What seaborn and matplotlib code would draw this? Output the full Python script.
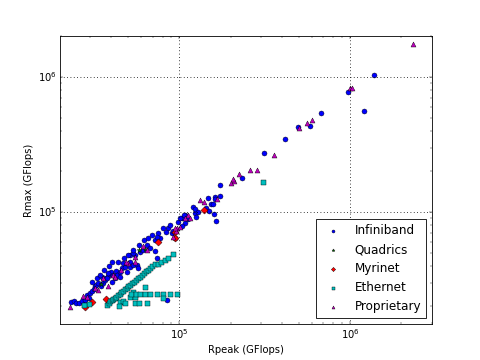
import matplotlib
matplotlib.use("Agg")
import matplotlib.pyplot as plt
import pandas as pd
import seaborn as sns

# ── Data (GFlops): Rpeak / Rmax per interconnect family ──────────────────────
infiniband_rpeak = [
    23300, 24300, 25000, 26000, 26900, 28200, 27800, 29000, 29800, 30200,
    30800, 31600, 32300, 32800, 33600, 35000, 35900, 36900, 37400, 38400,
    39500, 40000, 41000, 42200, 42800, 43900, 35400, 37900, 40500, 43400,
    45200, 45200, 46400, 48300, 49400, 51700, 51700, 53800, 55300, 56600,
    57300, 59200, 61900, 64700, 67700, 72400, 72400, 74100, 75700, 77400,
    74100, 86600, 91300, 92500, 94800, 98600, 104000, 108000, 121000, 124000,
    124000, 129000, 126000, 144000, 150000, 160000, 164000, 154000, 158000, 148000,
    162000, 162000, 174000, 174000, 107000, 101000, 108000, 113000, 104000, 85500,
    51700, 53800, 47100, 38600, 234000, 314000, 417000, 496000, 581000, 677000,
    1206000, 1376000, 973000,
    31000, 33100, 34500, 36400, 39000, 40500, 43900, 47700, 50200, 53800,
    57900, 62600, 65900, 69600, 81000, 84000, 88600,
]
infiniband_rmax = [
    21500, 21800, 21200, 21200, 21800, 22300, 20500, 24300, 23100, 25100,
    26000, 26900, 28300, 28800, 29800, 28300, 29800, 31300, 32400, 33600,
    35300, 35900, 34200, 32400, 36600, 34200, 32900, 32400, 30300, 34200,
    35900, 33000, 38500, 39100, 35900, 39100, 42600, 40500, 48000, 40500,
    38500, 50500, 52300, 56700, 54200, 51300, 62000, 45600, 69900, 64200,
    65300, 76100, 69900, 72300, 64200, 84300, 90300, 95000, 109000, 98300,
    105000, 100000, 91800, 107000, 102000, 96600, 85700, 115000, 115000, 127000,
    129000, 125000, 131000, 159000, 95000, 90300, 82900, 88700, 78800, 22300,
    48000, 49700, 41600, 35100, 179000, 273000, 347000, 425000, 433000, 544000,
    563000, 1042000, 773000,
    30300, 32400, 34200, 37200, 39800, 42600, 42600, 45600, 48000, 52300,
    57000, 62000, 64200, 67600, 76100, 71100, 80100,
]

quadrics_rpeak = [35000, 63300, 57900]
quadrics_rmax = [29300, 53200, 52300]

myrinet_rpeak = [28200, 30800, 37400, 75700, 94800, 94800, 140000]
myrinet_rmax = [19800, 21500, 22700, 59900, 71100, 64200, 103000]

ethernet_rpeak = [
    37900, 39000, 39500, 40500, 41000, 42200, 42800, 43900, 45200, 45800,
    47100, 48300, 49400, 50200, 51700, 53000, 54400, 55900, 57300, 59200,
    60800, 62600, 64400, 65900, 67700, 69600, 72400, 75700, 78600, 82800,
    86600, 92500, 45200, 47100, 51700, 55300, 63300, 53800, 44500, 29800,
    27800, 52600, 56000, 59200, 63300, 67700, 74100, 81000, 88600, 97500,
    55300, 57900, 65000, 48300, 81000, 310000,
]
ethernet_rmax = [
    20500, 21200, 21800, 22300, 22700, 23100, 23500, 24300, 24700, 25600,
    26000, 26900, 27400, 28300, 28800, 29800, 30300, 31300, 32400, 33000,
    34200, 35300, 36600, 37200, 38500, 39800, 41200, 41200, 42600, 44100,
    45600, 48800, 21500, 21800, 23500, 23500, 27800, 25600, 20100, 20800,
    20500, 24700, 24700, 24700, 24700, 24700, 24700, 24700, 24700, 24700,
    21300, 21300, 21300, 21300, 23000, 167000,
]

proprietary_rpeak = [
    23100, 27500, 28800, 33600, 35900, 38400, 41000, 55300, 64700, 61900,
    92500, 97500, 96200, 108000, 113000, 116000, 101000, 94800, 133000, 140000,
    167000, 201000, 210000, 207000, 224000, 260000, 286000, 359000, 503000, 557000,
    596000, 1003000, 1029000, 2331000, 42200, 50400, 55300, 32300, 45800, 49000,
]
proprietary_rmax = [
    19800, 23900, 23500, 26500, 32400, 28300, 34200, 46400, 52300, 55600,
    65300, 76100, 72300, 90300, 95000, 90300, 77300, 76100, 123000, 119000,
    125000, 164000, 170000, 176000, 191000, 205000, 205000, 264000, 419000, 459000,
    478000, 826000, 832000, 1759000, 33100, 41600, 42900, 27400, 37200, 42600,
]

series = [
    ("Infiniband", infiniband_rpeak, infiniband_rmax, "o", "b"),
    ("Quadrics", quadrics_rpeak, quadrics_rmax, "*", "g"),
    ("Myrinet", myrinet_rpeak, myrinet_rmax, "D", "r"),
    ("Ethernet", ethernet_rpeak, ethernet_rmax, "s", "c"),
    ("Proprietary", proprietary_rpeak, proprietary_rmax, "^", "m"),
]

plt.style.use("classic")
fig, ax = plt.subplots(figsize=(8, 6), dpi=60)
fig.patch.set_facecolor("white")

for name, rpeak, rmax, marker, color in series:
    df = pd.DataFrame({"Rpeak": rpeak, "Rmax": rmax})
    sns.scatterplot(
        data=df, x="Rpeak", y="Rmax", ax=ax,
        marker=marker, color=color, edgecolor="k", linewidth=0.5,
        s=36, label=name,
    )

ax.set_xscale("log")
ax.set_yscale("log")
ax.set_xlim(2.01e4, 3.02e6)
ax.set_ylim(1.48e4, 2.01e6)
ax.grid(True, which="major", linestyle=":", color="k", linewidth=1.0)
ax.set_xlabel("Rpeak (GFlops)", fontsize=12)
ax.set_ylabel("Rmax (GFlops)", fontsize=12)

ax.legend(loc="lower right", scatterpoints=1, markerscale=0.6,
          fontsize=14.4, frameon=True, fancybox=False)

plt.savefig("out.png", dpi=60, facecolor="white")
